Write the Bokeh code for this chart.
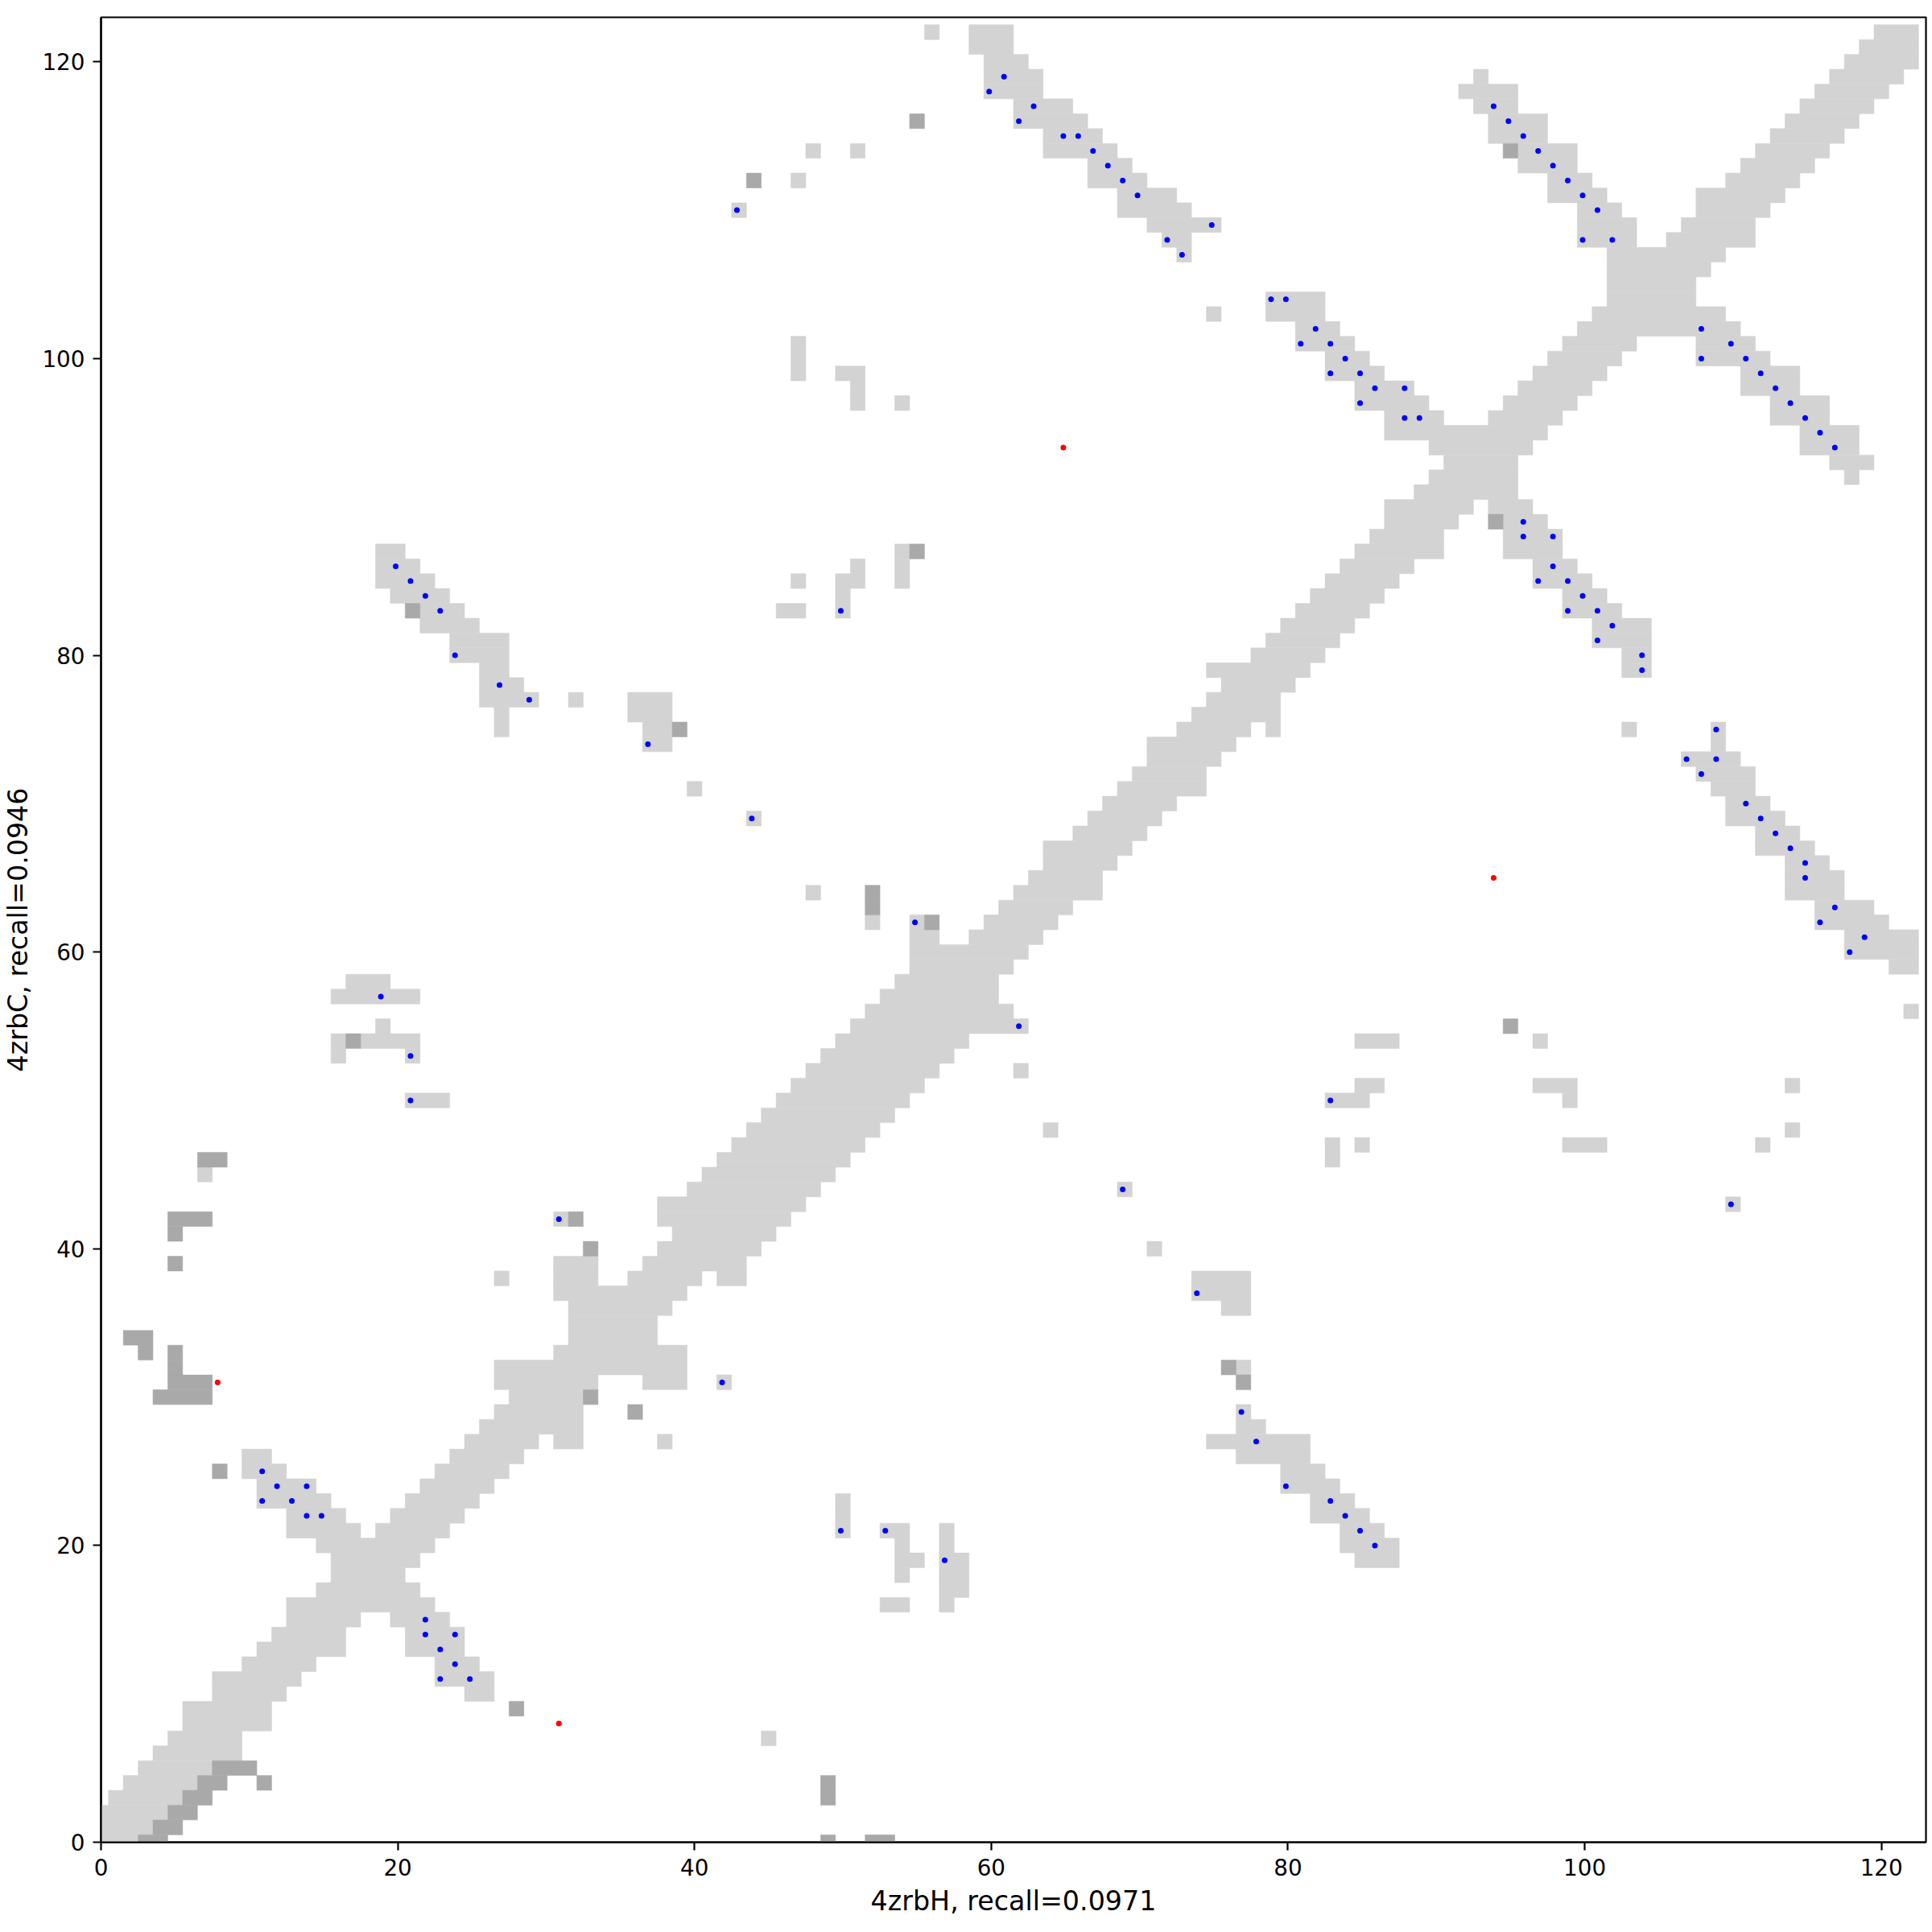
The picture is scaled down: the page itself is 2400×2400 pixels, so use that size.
from bokeh.plotting import figure
from bokeh.embed import file_html
from bokeh.resources import INLINE
from bokeh.models import FixedTicker, Range1d

X_LABEL = "4zrbH, recall=0.0971"
Y_LABEL = "4zrbC, recall=0.0946"
TICKS = [0, 20, 40, 60, 80, 100, 120]

# Light cells, read as (row, first column, last column) on and right of the diagonal; the map is mirrored.
light_runs = [
    (0,0,2),(1,1,3),(2,2,4),(3,3,5),(4,4,6),(5,5,7),(6,6,9),(7,7,9),(7,45,45),(8,8,11),(9,9,11),
    (10,10,12),(10,25,26),(11,11,13),(11,23,26),(12,12,14),(12,23,25),(13,13,16),(13,21,24),
    (14,14,16),(14,21,24),(15,15,17),(15,20,23),(16,16,22),(16,53,54),(16,57,57),(17,17,21),(17,57,58),
    (18,18,20),(18,54,54),(18,57,58),(19,19,21),(19,54,55),(19,57,58),(19,85,87),
    (20,20,22),(20,54,54),(20,57,57),(20,84,87),(21,21,23),(21,50,50),(21,53,54),(21,57,57),(21,84,86),
    (22,22,24),(22,50,50),(22,82,85),(23,23,25),(23,50,50),(23,82,84),(24,24,26),(24,80,83),
    (25,25,27),(25,80,82),(26,26,28),(26,77,81),(27,27,29),(27,31,32),(27,38,38),(27,75,81),
    (28,28,32),(28,77,78),(29,29,32),(29,77,77),(30,30,32),(31,31,33),(31,37,39),(31,42,42),
    (32,32,39),(32,77,77),(33,33,39),(34,34,37),(35,35,37),(36,36,38),(36,76,77),(37,37,39),(37,74,77),
    (38,38,40),(38,42,43),(38,74,77),(39,39,43),(40,40,44),(40,71,71),(41,41,45),(42,42,46),
    (43,43,47),(43,110,110),(44,44,48),(44,69,69),(45,45,49),(46,46,50),(46,83,83),
    (47,47,51),(47,83,83),(47,85,85),(47,99,101),(47,112,112),(48,48,52),(48,64,64),(48,114,114),
    (49,49,53),(50,50,54),(50,83,85),(50,99,99),(51,51,55),(51,85,86),(51,97,99),(51,114,114),
    (52,52,56),(52,62,62),(53,53,57),(54,54,58),(54,85,87),(54,97,97),(55,55,62),(56,56,61),(56,122,122),
    (57,57,60),(58,58,60),(59,59,61),(59,121,122),(60,60,62),(60,118,122),(61,61,63),(61,118,122),
    (62,62,64),(62,116,120),(63,63,65),(63,116,119),(64,64,67),(64,114,117),(65,65,67),(65,114,117),
    (66,66,68),(66,114,116),(67,67,69),(67,112,115),(68,68,70),(68,112,114),(69,69,71),(69,110,113),
    (70,70,72),(70,110,112),(71,71,74),(71,109,111),(72,72,74),(72,108,111),(73,73,75),(73,107,110),
    (74,74,76),(74,109,109),(75,75,77),(75,79,79),(75,103,103),(75,109,109),(76,76,79),(77,77,79),
    (78,78,80),(79,79,81),(79,103,104),(80,80,82),(80,103,104),(81,81,83),(81,101,104),
    (82,82,84),(82,101,104),(83,83,85),(83,99,102),(84,84,86),(84,99,101),(85,85,87),(85,97,100),
    (86,86,88),(86,97,99),(87,87,90),(87,95,98),(88,88,90),(88,95,98),(89,89,91),(89,95,97),
    (90,90,92),(90,94,96),(91,91,95),(92,92,95),(92,118,118),(93,93,95),(93,117,119),
    (94,94,96),(94,115,118),(95,95,97),(95,115,118),(96,96,98),(96,113,116),(97,97,99),(97,113,116),
    (98,98,100),(98,111,114),(99,99,101),(99,111,114),(100,100,102),(100,108,112),
    (101,101,103),(101,108,111),(102,102,110),(103,103,109),(104,104,107),(105,105,107),
    (106,106,108),(107,107,109),(108,108,111),(109,109,111),(110,110,112),(111,111,113),
    (112,112,114),(113,113,115),(114,114,116),(115,115,117),(116,116,118),(117,117,119),
    (118,118,120),(119,119,121),(120,120,122),(121,121,122),(122,122,122),
]

dark_x = [3,4,4,5,5,6,6,7,7,8,11,8,9,10,28,8,33,36,4,5,6,7,5,6,7,5,5,3,2,3,5,33,5,5,6,7,32,7,8,
          17,39,21,55,52,52,56,55,44,94,95,95,76,77,49,52,53,49,49]
dark_y = [0,0,1,1,2,2,3,3,4,4,4,5,5,5,9,25,30,29,30,30,30,30,31,31,31,32,33,33,34,34,39,40,41,42,42,42,42,46,46,
          54,75,83,87,63,64,62,116,112,89,114,55,32,31,0,0,0,3,4]

blue_x = [22,22,24,23,24,23,25,11,12,14,11,13,14,15,
          42,50,53,57,74,77,78,80,83,84,85,86,
          24,27,29,37,19,21,21,31,44,55,62,69,
          101,104,104,109,107,109,108,111,112,113,114,115,115,117,116,119,118,83,110,
          20,21,22,23,
          61,60,63,62,65,66,67,68,69,70,43,75,72,73,79,80,81,50,
          94,95,96,97,98,99,100,101,100,102,82,108,83,110,84,108,111,83,85,112,86,88,113,85,114,
          88,89,115,116,117,96,96,98,98,97,99,100,99,101,102]
blue_y = [15,14,14,13,12,11,11,25,24,24,23,23,22,22,
          31,21,21,19,37,29,27,24,23,22,21,20,
          80,78,77,74,57,53,50,42,69,62,55,44,
          81,80,79,75,73,73,72,70,69,68,67,66,65,63,62,61,60,50,43,
          86,85,84,83,
          119,118,117,116,115,115,114,113,112,111,110,109,108,107,104,104,101,83,
          117,116,115,114,113,112,111,110,108,108,102,102,101,101,100,100,100,99,99,99,98,98,98,97,97,
          96,96,96,95,94,89,88,88,86,85,85,84,83,83,82]

red_x = [8, 31, 65, 94]
red_y = [31, 8, 94, 65]

LIGHT = "#d3d3d3"
DARK = "#a9a9a9"
FONT = "DejaVu Sans"
TICK_PX = "27.8px"
LABEL_PX = "33.3px"
LW = 2.2
MARK_SHIFT = 0.14

cells = set()
for row, first, last in light_runs:
    for col in range(first, last + 1):
        cells.add((col, row))
        cells.add((row, col))


def rows_of(cell_set):
    left, right, bottom, top = [], [], [], []
    by_row = {}
    for col, row in cell_set:
        by_row.setdefault(row, []).append(col)
    for row, cols in by_row.items():
        cols = sorted(cols)
        start = prev = cols[0]
        for col in cols[1:] + [None]:
            if col is None or col != prev + 1:
                left.append(start - 0.5); right.append(prev + 0.5)
                bottom.append(row - 0.5); top.append(row + 0.5)
                start = col
            prev = col
    return left, right, bottom, top


p = figure(width=2394, height=2394, output_backend="svg", toolbar_location=None,
           x_range=Range1d(0, 123), y_range=Range1d(0, 123),
           min_border_left=125, min_border_right=2, min_border_top=21, min_border_bottom=106)
p.grid.visible = False
p.background_fill_color = "white"
p.outline_line_color = "black"
p.outline_line_width = LW

l, r, b, t = rows_of(cells)
p.quad(left=l, right=r, bottom=b, top=t, fill_color=LIGHT, line_color=LIGHT, line_width=0.5)
l, r, b, t = rows_of(set(zip(dark_x, dark_y)))
p.quad(left=l, right=r, bottom=b, top=t, fill_color=DARK, line_color=DARK, line_width=0.5)

p.scatter([v - MARK_SHIFT for v in blue_x], blue_y, size=7, color="#0000ff", line_color=None)
p.scatter([v - MARK_SHIFT for v in red_x], red_y, size=7, color="#ff0000", line_color=None)

for ax, label in ((p.xaxis[0], X_LABEL), (p.yaxis[0], Y_LABEL)):
    ax.ticker = FixedTicker(ticks=TICKS)
    ax.axis_label = label
    ax.axis_label_text_font = FONT
    ax.axis_label_text_font_size = LABEL_PX
    ax.axis_label_text_font_style = "normal"
    ax.axis_label_text_color = "black"
    ax.major_label_text_font = FONT
    ax.major_label_text_font_size = TICK_PX
    ax.major_label_text_color = "black"
    ax.axis_line_color = "black"
    ax.axis_line_width = LW
    ax.major_tick_line_color = "black"
    ax.major_tick_line_width = LW
    ax.major_tick_in = 0
    ax.major_tick_out = 10
    ax.minor_tick_line_color = None
    ax.major_label_standoff = 10
p.xaxis[0].axis_label_standoff = 9
p.yaxis[0].axis_label_standoff = 7

open("out.html", "w").write(file_html(p, INLINE))
